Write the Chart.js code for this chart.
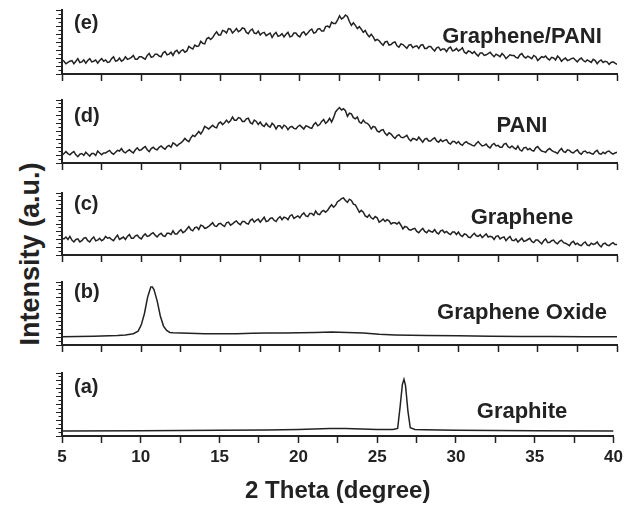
<!DOCTYPE html>
<html>
<head>
<meta charset="utf-8">
<script src="https://cdn.jsdelivr.net/npm/chart.js@4.4.1/dist/chart.umd.min.js"></script>
<style>
  html, body { margin: 0; padding: 0; background: #fff; }
  #wrap { position: relative; width: 627px; height: 506px; overflow: hidden; }
  #wrap canvas { position: absolute; left: 0; }
  #ytitle {
    position: absolute; left: 30px; top: 254px;
    transform: translate(-50%, -50%) rotate(-90deg);
    font: bold 27px "Liberation Sans", Arial, sans-serif;
    color: #222; white-space: nowrap;
  }
</style>
</head>
<body>
<div id="wrap">
  <div id="ytitle">Intensity (a.u.)</div>
</div>
<script>
// 2-theta grid (0.125 deg) shared by the three broad patterns (c), (d), (e)
const thetaGrid = [
  5, 5.125, 5.25, 5.375, 5.5, 5.625, 5.75, 5.875, 6, 6.125, 6.25, 6.375, 6.5, 6.625, 6.75, 6.875,
  7, 7.125, 7.25, 7.375, 7.5, 7.625, 7.75, 7.875, 8, 8.125, 8.25, 8.375, 8.5, 8.625, 8.75, 8.875,
  9, 9.125, 9.25, 9.375, 9.5, 9.625, 9.75, 9.875, 10, 10.125, 10.25, 10.375, 10.5, 10.625, 10.75, 10.875,
  11, 11.125, 11.25, 11.375, 11.5, 11.625, 11.75, 11.875, 12, 12.125, 12.25, 12.375, 12.5, 12.625, 12.75, 12.875,
  13, 13.125, 13.25, 13.375, 13.5, 13.625, 13.75, 13.875, 14, 14.125, 14.25, 14.375, 14.5, 14.625, 14.75, 14.875,
  15, 15.125, 15.25, 15.375, 15.5, 15.625, 15.75, 15.875, 16, 16.125, 16.25, 16.375, 16.5, 16.625, 16.75, 16.875,
  17, 17.125, 17.25, 17.375, 17.5, 17.625, 17.75, 17.875, 18, 18.125, 18.25, 18.375, 18.5, 18.625, 18.75, 18.875,
  19, 19.125, 19.25, 19.375, 19.5, 19.625, 19.75, 19.875, 20, 20.125, 20.25, 20.375, 20.5, 20.625, 20.75, 20.875,
  21, 21.125, 21.25, 21.375, 21.5, 21.625, 21.75, 21.875, 22, 22.125, 22.25, 22.375, 22.5, 22.625, 22.75, 22.875,
  23, 23.125, 23.25, 23.375, 23.5, 23.625, 23.75, 23.875, 24, 24.125, 24.25, 24.375, 24.5, 24.625, 24.75, 24.875,
  25, 25.125, 25.25, 25.375, 25.5, 25.625, 25.75, 25.875, 26, 26.125, 26.25, 26.375, 26.5, 26.625, 26.75, 26.875,
  27, 27.125, 27.25, 27.375, 27.5, 27.625, 27.75, 27.875, 28, 28.125, 28.25, 28.375, 28.5, 28.625, 28.75, 28.875,
  29, 29.125, 29.25, 29.375, 29.5, 29.625, 29.75, 29.875, 30, 30.125, 30.25, 30.375, 30.5, 30.625, 30.75, 30.875,
  31, 31.125, 31.25, 31.375, 31.5, 31.625, 31.75, 31.875, 32, 32.125, 32.25, 32.375, 32.5, 32.625, 32.75, 32.875,
  33, 33.125, 33.25, 33.375, 33.5, 33.625, 33.75, 33.875, 34, 34.125, 34.25, 34.375, 34.5, 34.625, 34.75, 34.875,
  35, 35.125, 35.25, 35.375, 35.5, 35.625, 35.75, 35.875, 36, 36.125, 36.25, 36.375, 36.5, 36.625, 36.75, 36.875,
  37, 37.125, 37.25, 37.375, 37.5, 37.625, 37.75, 37.875, 38, 38.125, 38.25, 38.375, 38.5, 38.625, 38.75, 38.875,
  39, 39.125, 39.25, 39.375, 39.5, 39.625, 39.75, 39.875, 40
];

// (e) Graphene/PANI
const graphenePaniIntensity = [
  22, 20, 16, 18, 20, 21, 16, 20, 24, 18, 19, 22, 17, 21, 24, 19, 20, 22, 17, 21, 24, 20, 22, 18, 19, 24, 27, 20, 21, 25, 20, 22, 27, 23, 24, 26, 29, 23, 23, 27,
  27, 25, 23, 29, 32, 26, 27, 31, 31, 28, 27, 33, 35, 30, 31, 34, 29, 35, 37, 32, 36, 38, 34, 36, 43, 41, 39, 45, 43, 44, 51, 48, 47, 55, 57, 54, 57, 62, 66, 61,
  61, 68, 67, 64, 71, 70, 64, 67, 71, 66, 68, 72, 71, 65, 63, 68, 70, 64, 63, 67, 61, 64, 65, 60, 62, 64, 57, 62, 65, 59, 60, 63, 58, 62, 65, 58, 59, 64, 64, 60,
  58, 64, 66, 61, 64, 68, 70, 64, 65, 70, 71, 67, 67, 74, 75, 73, 81, 79, 79, 84, 91, 86, 88, 92, 90, 82, 76, 80, 76, 71, 74, 70, 65, 68, 62, 58, 62, 58, 52, 54,
  52, 48, 45, 50, 51, 45, 46, 49, 50, 44, 42, 47, 46, 43, 40, 45, 46, 41, 43, 44, 40, 45, 46, 40, 40, 43, 43, 39, 36, 41, 42, 37, 39, 39, 35, 40, 42, 36, 37, 40,
  36, 38, 41, 34, 32, 36, 35, 32, 35, 31, 28, 33, 33, 29, 30, 32, 34, 30, 27, 31, 29, 27, 32, 29, 24, 27, 30, 29, 29, 26, 25, 30, 32, 27, 25, 28, 26, 24, 29, 27,
  21, 24, 27, 26, 28, 24, 22, 26, 25, 22, 28, 25, 20, 23, 25, 21, 22, 24, 25, 22, 19, 23, 25, 21, 19, 22, 20, 18, 23, 21, 16, 20, 22, 18, 20, 19, 15, 18, 19, 17,
  15
];

// (d) PANI
const paniIntensity = [
  12, 15, 18, 15, 13, 16, 18, 13, 10, 14, 15, 12, 17, 14, 11, 15, 15, 12, 19, 16, 13, 16, 16, 18, 20, 16, 14, 17, 20, 19, 23, 18, 16, 19, 21, 18, 16, 21, 24, 20,
  21, 24, 26, 21, 18, 23, 25, 22, 21, 25, 27, 24, 22, 26, 28, 25, 32, 30, 27, 30, 32, 35, 39, 36, 34, 40, 44, 42, 46, 50, 46, 51, 58, 56, 54, 57, 60, 57, 56, 63,
  65, 61, 64, 68, 64, 67, 73, 68, 68, 72, 71, 66, 66, 70, 71, 64, 62, 68, 66, 61, 65, 60, 58, 63, 59, 57, 63, 60, 54, 59, 59, 55, 60, 58, 53, 57, 58, 55, 54, 58,
  60, 57, 54, 59, 58, 56, 55, 61, 64, 59, 61, 66, 69, 63, 66, 71, 65, 72, 81, 85, 88, 84, 86, 83, 74, 79, 78, 72, 70, 73, 65, 63, 68, 64, 63, 60, 54, 58, 57, 51,
  49, 52, 53, 47, 44, 48, 46, 42, 39, 43, 45, 41, 40, 42, 44, 38, 35, 39, 38, 36, 41, 37, 33, 38, 39, 35, 35, 38, 40, 35, 33, 37, 34, 36, 37, 32, 30, 34, 34, 31,
  34, 30, 28, 32, 34, 31, 30, 28, 27, 31, 34, 30, 27, 28, 30, 26, 24, 29, 31, 27, 28, 25, 25, 30, 31, 26, 24, 27, 24, 22, 27, 21, 19, 24, 25, 21, 23, 20, 19, 24,
  26, 22, 19, 18, 17, 21, 23, 20, 18, 17, 15, 20, 23, 18, 17, 21, 20, 17, 16, 19, 21, 16, 14, 18, 19, 16, 17, 15, 14, 18, 20, 15, 14, 17, 15, 18, 19, 16, 14, 16,
  17
];

// (c) Graphene
const grapheneIntensity = [
  27, 26, 29, 25, 30, 24, 21, 25, 26, 21, 23, 27, 28, 23, 21, 26, 29, 23, 24, 27, 23, 25, 30, 27, 28, 25, 23, 28, 32, 25, 27, 29, 25, 30, 33, 27, 27, 31, 32, 28,
  26, 31, 34, 30, 31, 34, 36, 32, 29, 33, 35, 31, 30, 35, 35, 33, 39, 34, 34, 38, 41, 36, 38, 42, 46, 41, 39, 44, 45, 41, 48, 47, 43, 44, 46, 49, 52, 47, 46, 50,
  51, 48, 46, 52, 53, 48, 50, 53, 55, 51, 49, 54, 54, 51, 50, 56, 58, 53, 56, 58, 53, 57, 61, 54, 55, 59, 60, 56, 54, 59, 62, 57, 61, 60, 57, 63, 65, 59, 61, 63,
  60, 65, 68, 63, 62, 67, 67, 64, 71, 66, 65, 70, 72, 69, 72, 77, 81, 77, 80, 86, 88, 91, 92, 88, 85, 90, 88, 82, 81, 75, 69, 72, 69, 63, 61, 65, 60, 58, 62, 60,
  53, 55, 58, 54, 57, 55, 50, 52, 52, 50, 53, 48, 42, 46, 45, 41, 40, 42, 43, 38, 36, 40, 43, 38, 36, 40, 38, 37, 41, 36, 34, 39, 40, 36, 38, 35, 33, 37, 37, 33,
  37, 32, 30, 34, 33, 29, 28, 32, 35, 31, 30, 33, 28, 31, 34, 29, 30, 29, 25, 30, 31, 26, 28, 29, 23, 27, 30, 24, 23, 26, 21, 24, 27, 22, 23, 25, 27, 22, 20, 24,
  24, 21, 18, 23, 26, 20, 20, 23, 24, 20, 18, 22, 24, 20, 19, 17, 15, 20, 22, 17, 19, 16, 15, 19, 21, 16, 15, 19, 17, 18, 21, 16, 13, 18, 19, 16, 15, 18, 20, 17,
  17
];

// (b) Graphene Oxide
const oxideTheta = [
  5, 6, 7, 8, 8.5, 9, 9.5, 9.8, 10, 10.2, 10.4, 10.6, 10.7, 10.8, 11, 11.2, 11.4, 11.6, 11.8, 12,
  12.5, 13, 14, 15, 16, 17, 18, 19, 20, 21, 22, 23, 24, 25, 26, 28, 30, 32, 34, 36, 38, 40
];
const oxideIntensity = [
  13, 13.5, 14, 14.5, 15, 16, 18, 22, 32, 50, 76, 92, 92, 88, 70, 46, 30, 23, 20, 19.5,
  19, 18.5, 18, 18, 18, 18.5, 19, 19, 19.5, 20, 20.5, 20, 19, 17, 16, 15, 14.5, 14, 13.5, 13.5, 13, 13
];

// (a) Graphite
const graphiteTheta = [5, 10, 15, 18, 20, 21, 22, 23, 24, 25, 26, 26.3, 26.45, 26.6, 26.7, 26.8, 26.95, 27.1, 27.4, 28, 30, 35, 40];
const graphiteIntensity = [8, 8.5, 9, 9.5, 10.5, 11, 12, 12, 11, 10.5, 10.5, 12, 45, 82, 90, 80, 40, 13, 10.5, 10, 9, 8.5, 8];

const panelTags = ['(e)', '(d)', '(c)', '(b)', '(a)'];
const panelNames = ['Graphene/PANI', 'PANI', 'Graphene', 'Graphene Oxide', 'Graphite'];
const xTickLabels = [5, 10, 15, 20, 25, 30, 35, 40];

const ink = '#222';
const family = '"Liberation Sans", Arial, Helvetica, sans-serif';

const toPoints = (xs, ys) => xs.map((x, i) => ({ x: x, y: ys[i] }));

// layout of each stacked panel (pixel box of the plot area + label baselines)
const panels = [
  { points: toPoints(thetaGrid, graphenePaniIntensity), top: 10, height: 64, tagBase: 19, nameBase: 33 },
  { points: toPoints(thetaGrid, paniIntensity), top: 100, height: 63, tagBase: 22, nameBase: 32 },
  { points: toPoints(thetaGrid, grapheneIntensity), top: 193, height: 62, tagBase: 17, nameBase: 30.5 },
  { points: toPoints(oxideTheta, oxideIntensity), top: 282, height: 63, tagBase: 16, nameBase: 36.5 },
  { points: toPoints(graphiteTheta, graphiteIntensity), top: 373, height: 63, tagBase: 20, nameBase: 44.5 }
];

const panelText = {
  id: 'panelText',
  afterDatasetsDraw(chart, args, opts) {
    const { ctx, chartArea } = chart;
    ctx.save();
    ctx.fillStyle = ink;
    ctx.textBaseline = 'alphabetic';
    ctx.font = 'bold 20px ' + family;
    ctx.textAlign = 'left';
    ctx.fillText(opts.tag, chartArea.left + 12, chartArea.top + opts.tagBase);
    ctx.font = 'bold 22px ' + family;
    ctx.textAlign = 'center';
    ctx.fillText(opts.name, 522, chartArea.top + opts.nameBase);
    ctx.restore();
  }
};

const wrap = document.getElementById('wrap');

panels.forEach((p, i) => {
  const last = i === panels.length - 1;
  const padTop = 3;
  const axisH = last ? 506 - (p.top + p.height) : 12;
  const cv = document.createElement('canvas');
  cv.width = 627;
  cv.height = padTop + p.height + axisH;
  cv.style.top = (p.top - padTop) + 'px';
  wrap.appendChild(cv);

  new Chart(cv, {
    type: 'line',
    data: {
      datasets: [{
        data: p.points,
        borderColor: ink,
        borderWidth: 1.5,
        pointRadius: 0,
        tension: 0,
        fill: false
      }]
    },
    options: {
      responsive: false,
      animation: false,
      devicePixelRatio: 1,
      layout: { padding: { left: 0, right: 10, top: padTop, bottom: 0 } },
      plugins: {
        legend: { display: false },
        tooltip: { enabled: false },
        panelText: { tag: panelTags[i], name: panelNames[i], tagBase: p.tagBase, nameBase: p.nameBase }
      },
      scales: {
        x: {
          type: 'linear', min: 5, max: 40,
          afterFit: s => { s.height = axisH; },
          border: { display: true, color: ink, width: 2 },
          grid: { drawOnChartArea: false, drawTicks: true, tickLength: 7, tickColor: ink, tickWidth: 1.5 },
          ticks: {
            display: last,
            stepSize: 2.5, autoSkip: false, maxRotation: 0, padding: 4, color: ink,
            font: { family: family, size: 17, weight: 'bold' },
            callback: v => xTickLabels.includes(v) ? String(v) : ''
          },
          title: {
            display: last, text: '2 Theta (degree)', color: ink, padding: 0,
            font: { family: family, size: 24, weight: 'bold' }
          }
        },
        y: {
          type: 'linear', position: 'left', min: 0, max: 100, weight: 1,
          afterFit: s => { s.width = 62; },
          border: { display: true, color: ink, width: 2 },
          grid: { drawOnChartArea: false, tickLength: 6, tickColor: ink, tickWidth: 1 },
          ticks: { display: false, stepSize: 12.5 }
        },
        yMinor: {
          type: 'linear', position: 'left', min: 0, max: 100, weight: 0,
          afterFit: s => { s.width = 0; },
          border: { display: false },
          grid: { drawOnChartArea: false, tickLength: 3.5, tickColor: ink, tickWidth: 1 },
          ticks: { display: false, stepSize: 6.25 }
        }
      }
    },
    plugins: [panelText]
  });
});
</script>
</body>
</html>
